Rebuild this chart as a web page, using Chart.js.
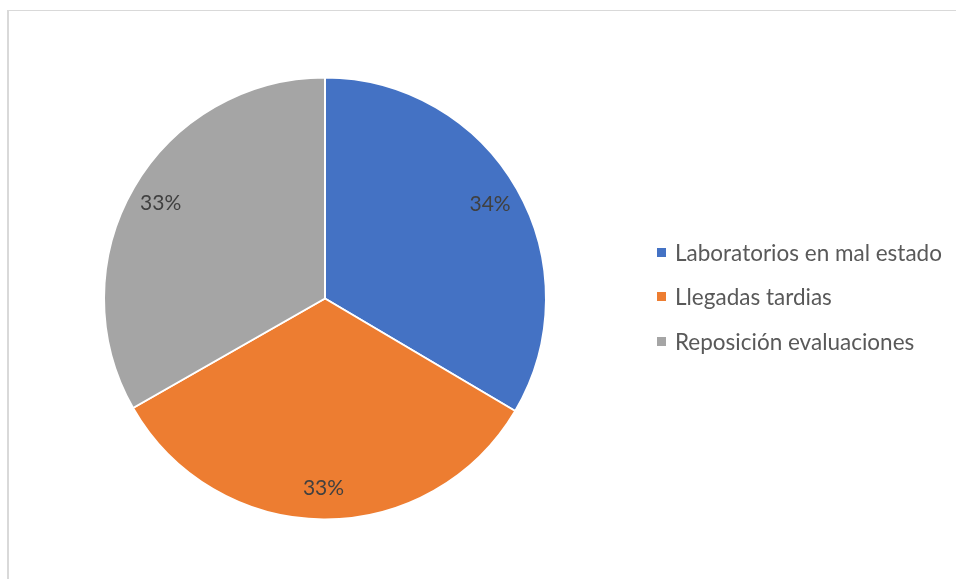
<!DOCTYPE html>
<html>
<head>
<meta charset="utf-8">
<script src="https://cdn.jsdelivr.net/npm/chart.js@4.4.1/dist/chart.umd.min.js"></script>
<style>
  html, body { margin: 0; padding: 0; background: #fff; }
  #wrap { position: relative; width: 956px; height: 579px; overflow: hidden; }
  #frame { position: absolute; left: 7px; top: 10px; width: 1000px; height: 600px;
           border-left: 2px solid #d9d9d9; border-top: 1px solid #d9d9d9; }
  canvas { position: absolute; left: 0; top: 0; }
  #legend { position: absolute; left: 657px; top: 230px; font-family: Lato, sans-serif;
            font-size: 22.5px; color: #595959; }
  #legend div { height: 44.5px; display: flex; align-items: center; white-space: nowrap; }
  #legend span.box { display: inline-block; width: 9px; height: 9px; margin-right: 9px; }
</style>
</head>
<body>
<div id="wrap">
  <div id="frame"></div>
  <canvas id="chart" width="956" height="579"></canvas>
  <div id="legend"></div>
</div>
<script>
const categories = ['Laboratorios en mal estado', 'Llegadas tardias', 'Reposición evaluaciones']
const values = [33.5, 33.25, 33.25]   // slices look like equal thirds, labelled 34% / 33% / 33%
const colors = ['#4472C4', '#ED7D31', '#A5A5A5']

// percentage labels inside slices
const sliceLabels = {
  id: 'sliceLabels',
  afterDatasetsDraw(chart) {
    const ctx = chart.ctx
    const meta = chart.getDatasetMeta(0)
    const total = values.reduce((a, b) => a + b, 0)
    ctx.save()
    ctx.font = '21px Lato, sans-serif'
    ctx.fillStyle = '#404040'
    ctx.textAlign = 'center'
    ctx.textBaseline = 'middle'
    meta.data.forEach((arc, i) => {
      const mid = (arc.startAngle + arc.endAngle) / 2
      const r = arc.outerRadius * 0.86
      const txt = Math.round(values[i] / total * 100) + '%'
      ctx.fillText(txt, arc.x + Math.cos(mid) * r, arc.y + Math.sin(mid) * r)
    })
    ctx.restore()
  }
}

new Chart(document.getElementById('chart'), {
  type: 'pie',
  data: {
    labels: categories,
    datasets: [{
      data: values,
      backgroundColor: colors,
      borderColor: '#ffffff',
      borderWidth: 2,
    }],
  },
  options: {
    responsive: false,
    animation: false,
    layout: { padding: { left: 103, right: 409, top: 76, bottom: 58 } },
    plugins: {
      legend: { display: false },
      tooltip: { enabled: false },
    },
  },
  plugins: [sliceLabels],
})

// html legend
const legend = document.getElementById('legend')
categories.forEach((name, i) => {
  const row = document.createElement('div')
  const box = document.createElement('span')
  box.className = 'box'
  box.style.background = colors[i]
  row.appendChild(box)
  row.appendChild(document.createTextNode(name))
  legend.appendChild(row)
})
</script>
</body>
</html>
